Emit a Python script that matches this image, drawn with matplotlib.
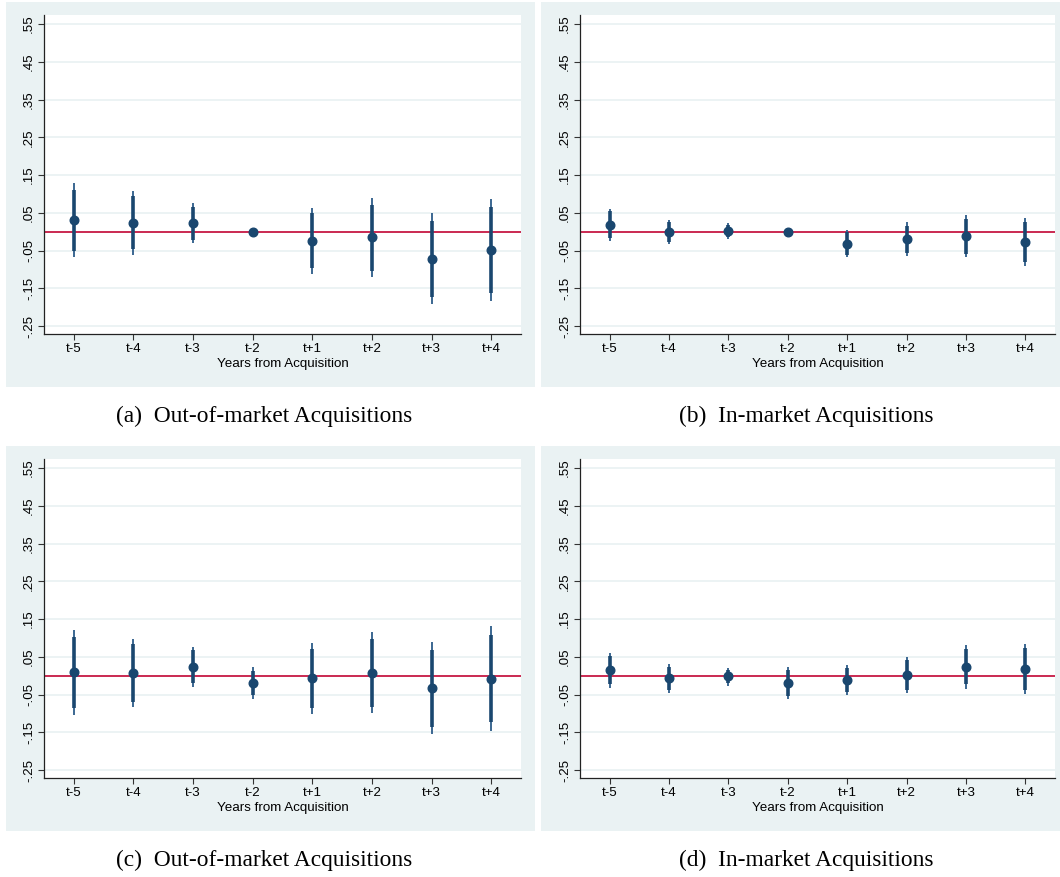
import matplotlib
matplotlib.use("Agg")
import matplotlib.pyplot as plt
import numpy as np

# event-time labels
periods = ["t-5", "t-4", "t-3", "t-2", "t+1", "t+2", "t+3", "t+4"]

# (a) Out-of-market, first outcome
a_coef = [0.031, 0.024, 0.022, 0.0, -0.024, -0.015, -0.072, -0.048]
a_lo_in = [-0.050, -0.047, -0.022, np.nan, -0.097, -0.103, -0.172, -0.162]
a_hi_in = [0.111, 0.094, 0.066, np.nan, 0.049, 0.072, 0.029, 0.065]
a_lo_out = [-0.066, -0.061, -0.031, np.nan, -0.112, -0.120, -0.192, -0.183]
a_hi_out = [0.128, 0.107, 0.076, np.nan, 0.064, 0.090, 0.050, 0.087]

# (b) In-market, first outcome
b_coef = [0.019, -0.001, 0.002, 0.0, -0.032, -0.020, -0.012, -0.026]
b_lo_in = [-0.017, -0.026, -0.013, np.nan, -0.061, -0.057, -0.059, -0.079]
b_hi_in = [0.054, 0.026, 0.017, np.nan, -0.002, 0.016, 0.034, 0.026]
b_lo_out = [-0.024, -0.033, -0.019, np.nan, -0.068, -0.065, -0.068, -0.090]
b_hi_out = [0.061, 0.032, 0.022, np.nan, 0.005, 0.025, 0.044, 0.037]

# (c) Out-of-market, second outcome
c_coef = [0.009, 0.008, 0.024, -0.019, -0.007, 0.007, -0.033, -0.008]
c_lo_in = [-0.085, -0.069, -0.020, -0.051, -0.085, -0.083, -0.135, -0.123]
c_hi_in = [0.103, 0.083, 0.068, 0.012, 0.071, 0.098, 0.068, 0.108]
c_lo_out = [-0.104, -0.084, -0.029, -0.063, -0.101, -0.100, -0.155, -0.146]
c_hi_out = [0.121, 0.097, 0.077, 0.023, 0.087, 0.116, 0.089, 0.131]

# (d) In-market, second outcome
d_coef = [0.015, -0.007, -0.002, -0.019, -0.011, 0.002, 0.023, 0.018]
d_lo_in = [-0.023, -0.039, -0.020, -0.054, -0.042, -0.037, -0.023, -0.037]
d_hi_in = [0.053, 0.024, 0.016, 0.015, 0.021, 0.042, 0.070, 0.073]
d_lo_out = [-0.032, -0.045, -0.026, -0.063, -0.050, -0.045, -0.034, -0.048]
d_hi_out = [0.061, 0.030, 0.021, 0.022, 0.029, 0.050, 0.080, 0.084]

yticks = [-0.25, -0.15, -0.05, 0.05, 0.15, 0.25, 0.35, 0.45, 0.55]
ytick_labels = ["-.25", "-.15", "-.05", ".05", ".15", ".25", ".35", ".45", ".55"]
captions = ["(a)  Out-of-market Acquisitions", "(b)  In-market Acquisitions",
            "(c)  Out-of-market Acquisitions", "(d)  In-market Acquisitions"]

W, H = 1060, 877
BG = "#eaf2f3"
NAVY = "#1a476f"
LIGHT = "#3b6792"
RED = "#c10534"
SANS = "Liberation Sans"

fig = plt.figure(figsize=(W / 100, H / 100), dpi=100)


def fbox(x0, y0, x1, y1):
    # pixel box (top-left origin) -> figure fraction rect
    return [x0 / W, 1 - y1 / H, (x1 - x0) / W, (y1 - y0) / H]


panels = [
    (a_coef, a_lo_in, a_hi_in, a_lo_out, a_hi_out),
    (b_coef, b_lo_in, b_hi_in, b_lo_out, b_hi_out),
    (c_coef, c_lo_in, c_hi_in, c_lo_out, c_hi_out),
    (d_coef, d_lo_in, d_hi_in, d_lo_out, d_hi_out),
]

# background box, plot area, caption position (pixels)
layout = [
    ((6, 2, 535, 387), (44, 15, 521, 334), (264, 416)),
    ((541, 2, 1060, 387), (580, 15, 1055, 334), (806, 416)),
    ((6, 446, 535, 831), (44, 459, 521, 778), (264, 860)),
    ((541, 446, 1060, 831), (580, 459, 1055, 778), (806, 860)),
]

x = np.arange(1, len(periods) + 1)

for i, ((coef, lo_in, hi_in, lo_out, hi_out), (bg, pa, cap)) in enumerate(zip(panels, layout)):
    bax = fig.add_axes(fbox(*bg))
    bax.set_facecolor(BG)
    bax.set_xticks([])
    bax.set_yticks([])
    for s in bax.spines.values():
        s.set_visible(False)

    ax = fig.add_axes(fbox(*pa))
    ax.set_facecolor("white")
    ax.set_xlim(0.5, 8.5)
    ax.set_ylim(-0.271, 0.574)
    for yt in yticks:
        ax.axhline(yt, color=BG, lw=1.3, zorder=0)
    ax.axhline(0, color=RED, lw=1.2, zorder=1)

    # outer (thin) and inner (thick) confidence intervals
    ax.vlines(x, lo_out, hi_out, color=LIGHT, lw=1.4, zorder=2)
    ax.vlines(x, lo_in, hi_in, color=NAVY, lw=2.6, zorder=3)
    ax.plot(x, coef, "o", color=NAVY, ms=6.2, zorder=4)

    ax.set_yticks(yticks)
    ax.set_yticklabels(ytick_labels, rotation=90, va="center",
                       fontsize=9.6, family=SANS)
    ax.set_xticks(x)
    ax.set_xticklabels(periods, fontsize=9.6, family=SANS)
    ax.tick_params(length=4, width=0.8, color="#333333", pad=2.5)
    ax.set_xlabel("Years from Acquisition", fontsize=9.6,
                  family=SANS, labelpad=2)
    for side in ["top", "right"]:
        ax.spines[side].set_visible(False)
    for side in ["left", "bottom"]:
        ax.spines[side].set_color("#222222")
        ax.spines[side].set_linewidth(0.9)

    fig.text(cap[0] / W, 1 - cap[1] / H, captions[i],
             ha="center", va="center", fontsize=16.8, family="Liberation Serif")

fig.savefig("out.png", dpi=100)
